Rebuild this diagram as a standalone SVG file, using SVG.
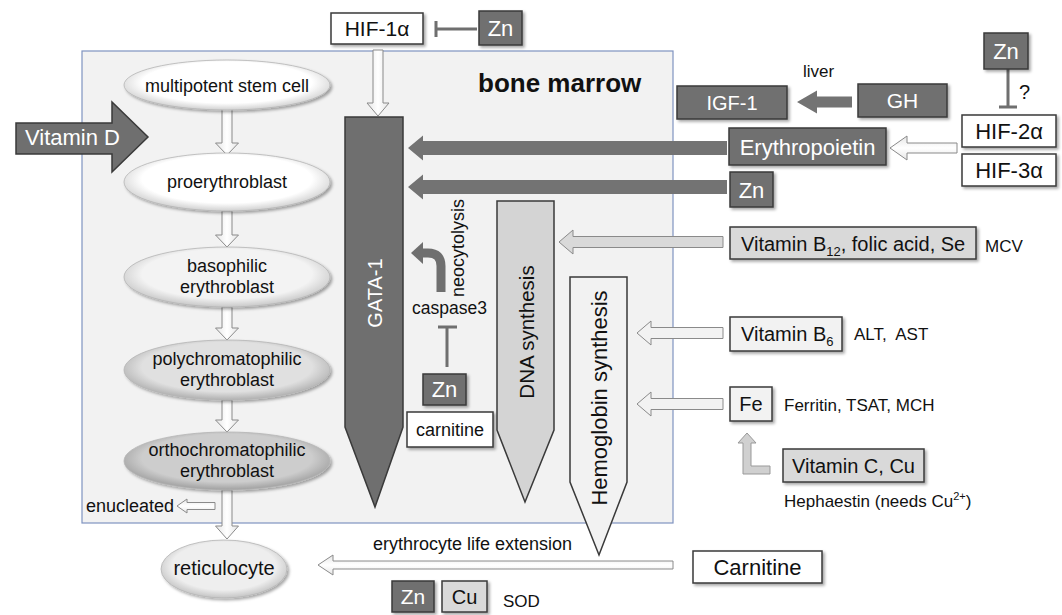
<svg xmlns="http://www.w3.org/2000/svg" width="1062" height="615" viewBox="0 0 1062 615">
<defs>
<filter id="sh" x="-20%" y="-20%" width="140%" height="150%"><feDropShadow dx="2" dy="2" stdDeviation="1.5" flood-color="#000" flood-opacity="0.35"/></filter>
<radialGradient id="gW" cx="50%" cy="45%" r="55%"><stop offset="0.75" stop-color="#ffffff"/><stop offset="1" stop-color="#d0d0d0"/></radialGradient>
<radialGradient id="gB" cx="50%" cy="45%" r="55%"><stop offset="0.75" stop-color="#f3f3f3"/><stop offset="1" stop-color="#c8c8c8"/></radialGradient>
<radialGradient id="gP" cx="50%" cy="45%" r="55%"><stop offset="0.75" stop-color="#e0e0e0"/><stop offset="1" stop-color="#b0b0b0"/></radialGradient>
<radialGradient id="gO" cx="50%" cy="45%" r="55%"><stop offset="0.75" stop-color="#cdcdcd"/><stop offset="1" stop-color="#a0a0a0"/></radialGradient>
<radialGradient id="gR" cx="50%" cy="45%" r="55%"><stop offset="0.75" stop-color="#eeeeee"/><stop offset="1" stop-color="#c4c4c4"/></radialGradient>
<linearGradient id="gA" x1="0" y1="0" x2="1" y2="0"><stop offset="0" stop-color="#e6e6e6"/><stop offset="0.5" stop-color="#ffffff"/><stop offset="1" stop-color="#e6e6e6"/></linearGradient>
<linearGradient id="gAh" x1="0" y1="0" x2="0" y2="1"><stop offset="0" stop-color="#e6e6e6"/><stop offset="0.5" stop-color="#ffffff"/><stop offset="1" stop-color="#e6e6e6"/></linearGradient>
</defs>
<style>
text{font-family:"Liberation Sans",Arial,sans-serif;fill:#111}
.dk{fill:#6f6f6f;stroke:#3a3a3a;stroke-width:1.5}
.lt{fill:#d9d9d9;stroke:#3a3a3a;stroke-width:1.5}
.wh{fill:#ffffff;stroke:#3a3a3a;stroke-width:1.5}
.pl{fill:#f2f2f2;stroke:#3a3a3a;stroke-width:1.5}
.ell{stroke:#b5b5b5;stroke-width:0.8;filter:url(#sh)}
.wa{fill:url(#gA);stroke:#8a8a8a;stroke-width:1}
.wah{fill:url(#gAh);stroke:#8a8a8a;stroke-width:1}
.da{fill:#737373;stroke:none}
.inh{stroke:#6f6f6f;stroke-width:3;fill:none}
.c{text-anchor:middle}
.w{fill:#ffffff}
</style>

<g id="bone-marrow">
<rect x="82" y="51" width="591" height="472" fill="#f2f2f2" stroke="#7f93c0" stroke-width="1.2"/>
<text x="478" y="92" font-size="26" font-weight="bold">bone marrow</text>
</g>

<g id="connectors">
<path class="wa" d="M222,108 L232,108 L232,143 L238.5,143 L227,155 L215.5,143 L222,143 Z"/>
<path class="wa" d="M222,211 L232,211 L232,235 L238.5,235 L227,247 L215.5,235 L222,235 Z"/>
<path class="wa" d="M222,307 L232,307 L232,328 L238.5,328 L227,340 L215.5,328 L222,328 Z"/>
<path class="wa" d="M222,400 L232,400 L232,420 L238.5,420 L227,432 L215.5,420 L222,420 Z"/>
<path class="wa" d="M222,490 L232,490 L232,526 L238.5,526 L227,539 L215.5,526 L222,526 Z"/>
<path class="wah" d="M215,502.5 L187,502.5 L187,499 L177,506 L187,513 L187,509.5 L215,509.5 Z"/>
<path class="dk" d="M16,123 L112,123 L112,102 L148,137 L112,172 L112,154 L16,154 Z"/>
<path class="wa" d="M373,50 L383,50 L383,103 L389,103 L378,116 L367,103 L373,103 Z"/>
<path class="inh" d="M436,21 L436,37 M436,29 L477,29"/>
<path class="da" d="M727,141 L423,141 L423,135.5 L408,148 L423,160.5 L423,155 L727,155 Z"/>
<path class="da" d="M727,180 L423,180 L423,174.5 L408,187 L423,199.5 L423,194 L727,194 Z"/>
<path class="da" d="M852,96.5 L817,96.5 L817,90.5 L797,102 L817,113.5 L817,107.5 L852,107.5 Z"/>
<path class="wah" d="M957,143 L907,143 L907,136 L890,148 L907,160 L907,153 L957,153 Z"/>
<path class="inh" d="M1008,69 L1008,107 M999,107 L1017,107"/>
<path d="M441,292 L441,266 Q441,253 428,253 L421,253" fill="none" stroke="#6f6f6f" stroke-width="9"/>
<path d="M411,253 L423,242 L423,264 Z" fill="#6f6f6f"/>
<path class="inh" d="M438,327 L457,327 M447,327 L447,367"/>
<path d="M723,236.5 L573,236.5 L573,230 L559,242 L573,254 L573,247.5 L723,247.5 Z" fill="#d9d9d9" stroke="#8a8a8a" stroke-width="1"/>
<path d="M723,327.5 L651,327.5 L651,321 L637,333 L651,345 L651,338.5 L723,338.5 Z" fill="#f2f2f2" stroke="#8a8a8a" stroke-width="1"/>
<path d="M723,398.5 L651,398.5 L651,392 L637,404 L651,416 L651,409.5 L723,409.5 Z" fill="#f2f2f2" stroke="#8a8a8a" stroke-width="1"/>
<path d="M747,433 L756,443 L751,443 L751,466 L770,466 L770,474 L743,474 L743,443 L738,443 Z" fill="#d0d0d0" stroke="#999" stroke-width="1"/>
<path class="wah" d="M673,561 L333,561 L333,555 L318,565 L333,575 L333,569 L673,569 Z"/>
</g>

<g id="multipotent-stem-cell">
<ellipse class="ell" cx="227" cy="85" rx="103" ry="25" fill="url(#gW)"/>
<text class="c" x="227" y="92" font-size="18">multipotent stem cell</text>
</g>
<g id="proerythroblast">
<ellipse class="ell" cx="227" cy="182" rx="103" ry="29" fill="url(#gW)"/>
<text class="c" x="227" y="188" font-size="18">proerythroblast</text>
</g>
<g id="basophilic-erythroblast">
<ellipse class="ell" cx="227" cy="277" rx="103" ry="30" fill="url(#gB)"/>
<text class="c" x="227" y="272" font-size="18">basophilic</text>
<text class="c" x="227" y="293" font-size="18">erythroblast</text>
</g>
<g id="polychromatophilic-erythroblast">
<ellipse class="ell" cx="227" cy="370" rx="103" ry="30" fill="url(#gP)"/>
<text class="c" x="227" y="365" font-size="18">polychromatophilic</text>
<text class="c" x="227" y="386" font-size="18">erythroblast</text>
</g>
<g id="orthochromatophilic-erythroblast">
<ellipse class="ell" cx="227" cy="461" rx="103" ry="29" fill="url(#gO)"/>
<text class="c" x="227" y="456" font-size="18">orthochromatophilic</text>
<text class="c" x="227" y="477" font-size="18">erythroblast</text>
</g>
<g id="enucleated">
<text x="174" y="512" font-size="18" text-anchor="end">enucleated</text>
</g>
<g id="reticulocyte">
<ellipse class="ell" cx="224" cy="569" rx="63" ry="29" fill="url(#gR)"/>
<text class="c" x="224" y="575" font-size="20">reticulocyte</text>
</g>
<g id="vitamin-d">
<text x="25" y="145" font-size="22" class="w">Vitamin D</text>
</g>

<g id="hif-1a">
<rect class="wh" x="331" y="13" width="92" height="31" filter="url(#sh)"/>
<text class="c" x="377" y="36" font-size="21">HIF-1α</text>
</g>
<g id="zn-top">
<rect class="dk" x="479" y="11" width="43" height="34" filter="url(#sh)"/>
<text class="c w" x="500.5" y="36" font-size="22">Zn</text>
</g>

<g id="gata-1">
<polygon class="dk" points="345,117 403,117 403,427 375,507 345,427"/>
<text class="c w" transform="translate(375,293) rotate(-90)" y="7" font-size="20">GATA-1</text>
</g>
<g id="neocytolysis">
<text class="c" transform="translate(458,248) rotate(-90)" y="6" font-size="18">neocytolysis</text>
</g>
<g id="caspase3">
<text class="c" x="449.5" y="314" font-size="17.5">caspase3</text>
</g>
<g id="zn-caspase">
<rect class="dk" x="423" y="374" width="43" height="31" filter="url(#sh)"/>
<text class="c w" x="444.5" y="397" font-size="22">Zn</text>
</g>
<g id="carnitine-small">
<rect class="wh" x="407" y="412" width="86" height="35" filter="url(#sh)"/>
<text class="c" x="450" y="436" font-size="18">carnitine</text>
</g>
<g id="dna-synthesis">
<polygon points="497,201 554,201 554,430 525,502 497,430" fill="#d4d4d4" stroke="#3a3a3a" stroke-width="1.5"/>
<text class="c" transform="translate(527,332) rotate(-90)" y="7" font-size="20.5">DNA synthesis</text>
</g>
<g id="hemoglobin-synthesis">
<polygon points="570,277 627,277 627,482 599,555 570,482" fill="#f2f2f2" stroke="#3a3a3a" stroke-width="1.5"/>
<text class="c" transform="translate(599,398) rotate(-90)" y="8" font-size="22">Hemoglobin synthesis</text>
</g>

<g id="igf-1">
<rect class="dk" x="677" y="86" width="110" height="33" filter="url(#sh)"/>
<text class="c w" x="732" y="110" font-size="20">IGF-1</text>
</g>
<g id="liver"><text x="803" y="77" font-size="17">liver</text></g>
<g id="gh">
<rect class="dk" x="858" y="84" width="89" height="33" filter="url(#sh)"/>
<text class="c w" x="902.5" y="108" font-size="21">GH</text>
</g>
<g id="zn-hif">
<rect class="dk" x="984" y="33" width="44" height="36" filter="url(#sh)"/>
<text class="c w" x="1006" y="59" font-size="22">Zn</text>
</g>
<g id="question"><text x="1019" y="99" font-size="20">?</text></g>
<g id="hif-2a">
<rect class="wh" x="962" y="115" width="94" height="32" filter="url(#sh)"/>
<text class="c" x="1009" y="139" font-size="22">HIF-2α</text>
</g>
<g id="hif-3a">
<rect class="wh" x="962" y="154" width="94" height="32" filter="url(#sh)"/>
<text class="c" x="1009" y="178" font-size="22">HIF-3α</text>
</g>
<g id="erythropoietin">
<rect class="dk" x="729" y="128" width="157" height="37" filter="url(#sh)"/>
<text class="c w" x="807.5" y="155" font-size="22">Erythropoietin</text>
</g>
<g id="zn-right">
<rect class="dk" x="730" y="172" width="43" height="35" filter="url(#sh)"/>
<text class="c w" x="751.5" y="198" font-size="22">Zn</text>
</g>
<g id="vitamin-b12">
<rect class="lt" x="730" y="227" width="246" height="32" filter="url(#sh)"/>
<text x="741" y="251" font-size="20">Vitamin B<tspan font-size="13" dy="5">12</tspan><tspan dy="-5">, folic acid, Se</tspan></text>
</g>
<g id="mcv"><text x="985" y="252" font-size="17">MCV</text></g>
<g id="vitamin-b6">
<rect class="pl" x="730" y="317" width="112" height="34" filter="url(#sh)"/>
<text x="741" y="341" font-size="20">Vitamin B<tspan font-size="13" dy="5">6</tspan></text>
</g>
<g id="alt-ast"><text x="854" y="340" font-size="17" xml:space="preserve">ALT,  AST</text></g>
<g id="fe">
<rect class="pl" x="730" y="387" width="42" height="34" filter="url(#sh)"/>
<text class="c" x="751" y="411" font-size="20">Fe</text>
</g>
<g id="ferritin"><text x="784" y="411" font-size="17">Ferritin, TSAT, MCH</text></g>
<g id="vitamin-c-cu">
<rect class="lt" x="783" y="449" width="141" height="33" filter="url(#sh)"/>
<text class="c" x="853.5" y="473" font-size="20">Vitamin C, Cu</text>
</g>
<g id="hephaestin"><text x="784" y="507" font-size="17">Hephaestin (needs Cu<tspan font-size="11" dy="-7">2+</tspan><tspan dy="7">)</tspan></text></g>
<g id="carnitine">
<rect class="wh" x="693" y="551" width="129" height="32" filter="url(#sh)"/>
<text class="c" x="757.5" y="575" font-size="22">Carnitine</text>
</g>
<g id="erythrocyte-life-extension"><text x="373" y="550" font-size="18">erythrocyte life extension</text></g>
<g id="zn-bottom">
<rect class="dk" x="392" y="581" width="42" height="31" filter="url(#sh)"/>
<text class="c w" x="413" y="604" font-size="21">Zn</text>
</g>
<g id="cu-bottom">
<rect class="lt" x="442" y="581" width="45" height="31" filter="url(#sh)"/>
<text class="c" x="464.5" y="604" font-size="20">Cu</text>
</g>
<g id="sod"><text x="503" y="607" font-size="17">SOD</text></g>
</svg>
